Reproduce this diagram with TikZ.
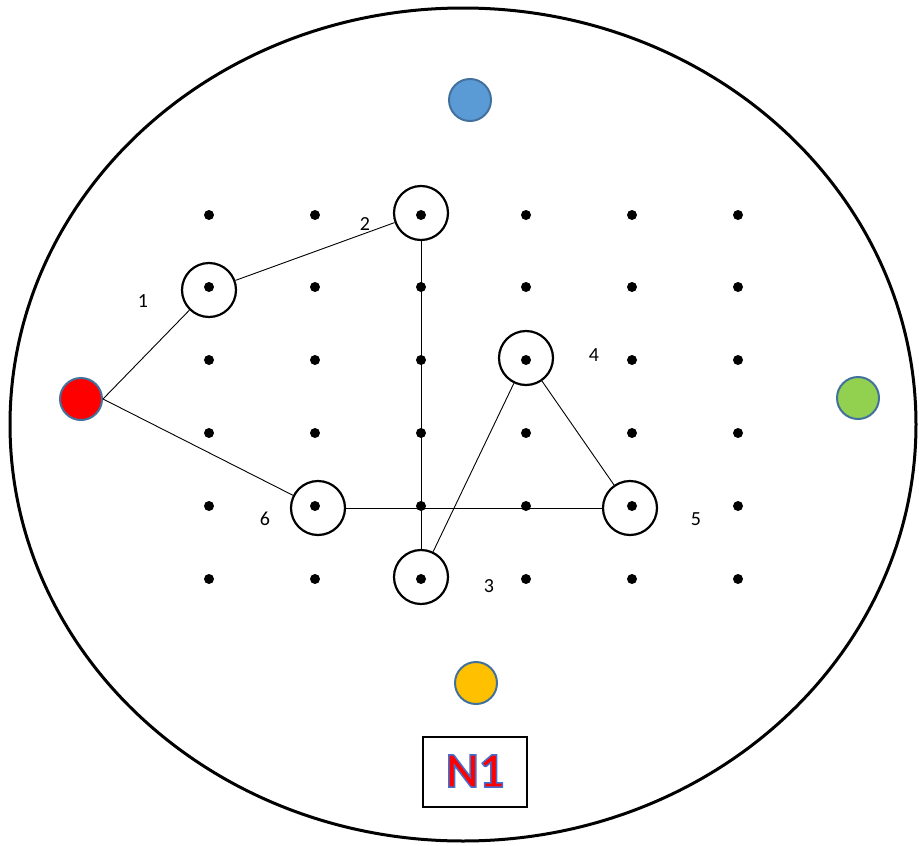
\documentclass[tikz,border=0pt]{standalone}
\usepackage{fontspec}
\setmainfont{Carlito}
\newfontfamily\nonefont[FakeBold=3]{Carlito Bold}
\definecolor{cred}{RGB}{255,0,0}
\definecolor{cblue}{RGB}{91,155,213}
\definecolor{cgreen}{RGB}{146,208,80}
\definecolor{corange}{RGB}{255,192,0}
\definecolor{cedge}{RGB}{65,113,156}
\begin{document}
\begin{tikzpicture}[x=1pt,y=-1pt,
  dot/.style={circle,fill=black,inner sep=0pt,minimum size=10pt},
  ring/.style={circle,draw=black,line width=2.2pt,inner sep=0pt,minimum size=54pt},
  pin/.style={circle,draw=cedge,line width=2pt,inner sep=0pt,minimum size=42pt},
  lab/.style={font=\fontsize{20}{20}\selectfont},
  conn/.style={draw=black,line width=0.9pt}]
\useasboundingbox (0,0) rectangle (919,846);
\draw[line width=3pt] (463,424.5) ellipse [x radius=453, y radius=416.5];
% grid dots
\foreach \i/\x in {1/209,2/315,3/421,4/526,5/632,6/738}
  \foreach \j/\y in {1/215,2/287,3/360,4/433,5/506,6/579}
    \node[dot] (d\i\j) at (\x,\y) {};
% rings
\node[ring] (r1) at (209,290) {};
\node[ring] (r2) at (421,213) {};
\node[ring] (r3) at (421,577) {};
\node[ring] (r4) at (526,358) {};
\node[ring] (r5) at (630,508) {};
\node[ring] (r6) at (318,508) {};
% coloured pins
\node[pin,fill=cred] (red) at (81,399) {};
\node[pin,fill=cblue] (blue) at (470,100) {};
\node[pin,fill=cgreen] (green) at (858,398) {};
\node[pin,fill=corange] (orange) at (476,683) {};
% connectors
\draw[conn] (red.east) -- (r1);
\draw[conn] (r1) -- (r2);
\draw[conn] (r2) -- (r3);
\draw[conn] (r3) -- (r4);
\draw[conn] (r4) -- (r5);
\draw[conn] (r5.west) -- (r6.east);
\draw[conn] (r6) -- (red.east);
% labels
\node[lab] (l1) at (143,301) {1};
\node[lab] (l2) at (365,224) {2};
\node[lab] (l3) at (489,586) {3};
\node[lab] (l4) at (594,355) {4};
\node[lab] (l5) at (696,519) {5};
\node[lab] (l6) at (265,519) {6};
% N1 box
\node[draw=black,line width=1.2pt,minimum width=104pt,minimum height=70pt,inner sep=0pt] (box) at (475,772) {};
\node[font=\fontsize{50}{50}\selectfont\nonefont] (n1) at ([yshift=1pt]box.center) {\textcolor{cred}{\special{pdf:code 0.27 0.43 0.82 RG}N1}};
\end{tikzpicture}
\end{document}
